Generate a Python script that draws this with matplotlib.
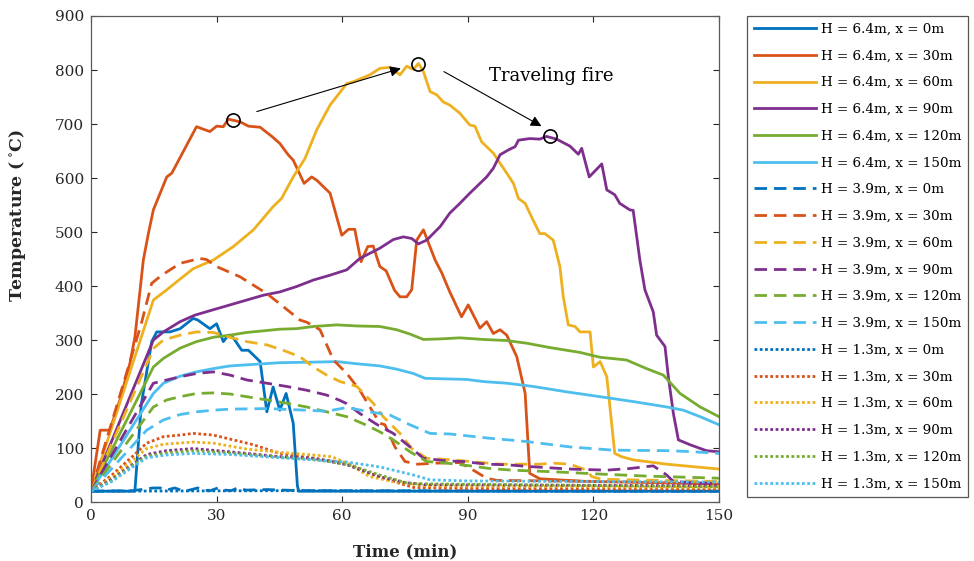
import matplotlib
matplotlib.use('Agg')
import matplotlib.pyplot as plt

# --- data (time in min, temperature in deg C) ---
t_64_0 = [0, 10.3, 10.5, 12.0, 14.5, 15.7, 18.9, 21.3, 24.4, 25.5, 28.4, 30.0, 31.6, 32.8, 33.9, 36.0, 37.6,
          40.4, 42.0, 43.5, 45.1, 46.6, 48.3, 49.3, 49.6, 150]
T_64_0 = [20, 20, 22, 180, 297, 315, 315, 321, 340, 337, 321, 330, 297, 309, 305, 281, 281,
          260, 167, 213, 170, 201, 146, 30, 20, 20]

t_64_30 = [0, 2.2, 4.5, 6.9, 9.3, 10.5, 12.5, 13.7, 14.9, 18.1, 19.3, 25.2, 28.4, 30.0, 31.6, 32.8, 35.6,
           37.6, 40.4, 43.2, 45.1, 47.1, 48.3, 50.9, 52.7, 53.9, 57.1, 59.9, 61.5, 63.0, 64.5, 66.1, 67.4,
           69.0, 70.5, 72.5, 73.8, 75.4, 76.6, 77.8, 79.4, 82.2, 83.8, 85.7, 88.5, 90.1, 92.9, 94.5, 96.1,
           97.7, 99.3, 101.7, 103.7, 104.8, 107.2, 118.4, 134.3, 150]
T_64_30 = [20, 133, 133, 189, 257, 306, 448, 497, 541, 602, 609, 695, 686, 696, 695, 709, 704,
           696, 694, 677, 664, 643, 633, 590, 602, 596, 572, 494, 505, 505, 445, 473, 474,
           436, 428, 392, 380, 380, 393, 485, 504, 448, 424, 389, 343, 365, 322, 334, 312,
           319, 309, 269, 201, 53, 43, 38, 36, 33]

t_64_60 = [0, 14.9, 18.1, 20.5, 24.4, 29.2, 34.0, 38.8, 43.5, 45.5, 48.3, 51.1, 53.9, 57.1, 61.1, 62.6,
           66.6, 69.0, 71.4, 73.8, 75.4, 77.0, 78.2, 79.4, 81.0, 82.6, 84.1, 85.7, 88.1, 90.5, 91.7, 93.3,
           96.1, 99.3, 100.9, 102.1, 103.7, 105.6, 107.2, 108.4, 110.4, 112.0, 112.8, 114.0, 115.6, 116.8,
           119.2, 120.0, 121.6, 123.2, 125.1, 126.7, 129.5, 137.5, 150]
T_64_60 = [20, 374, 393, 408, 432, 448, 473, 504, 547, 562, 602, 636, 689, 735, 775, 778,
           791, 803, 805, 791, 807, 801, 812, 797, 760, 754, 741, 735, 720, 698, 696, 667,
           646, 609, 590, 562, 553, 522, 497, 497, 485, 436, 380, 328, 325, 315,
           315, 250, 260, 232, 90, 84, 78, 70, 61]

t_64_90 = [0, 14.9, 17.3, 21.3, 24.8, 29.2, 33.2, 37.2, 41.2, 45.1, 49.1, 53.1, 57.1, 61.1, 64.2, 69.0,
           72.2, 74.6, 76.6, 78.2, 80.2, 83.4, 85.7, 88.1, 90.5, 94.5, 96.1, 97.7, 99.7, 101.3, 102.1,
           104.8, 107.2, 108.8, 111.2, 114.4, 116.4, 117.2, 119.0, 122.0, 123.2, 125.1, 126.3, 128.7,
           129.5, 131.1, 132.3, 134.3, 135.1, 137.1, 137.9, 139.1, 140.3, 143.1, 147.0, 150]
T_64_90 = [20, 300, 315, 334, 346, 356, 365, 374, 383, 389, 399, 411, 420, 430, 451, 470,
           486, 491, 488, 478, 485, 510, 535, 553, 572, 602, 618, 643, 652, 658, 670,
           673, 672, 677, 672, 659, 644, 655, 602, 626, 578, 569, 553, 541,
           540, 448, 393, 352, 309, 288, 232, 164, 115, 106, 95, 93]

t_64_120 = [0, 14.9, 17.3, 21.3, 25.2, 29.2, 33.2, 37.2, 41.2, 45.1, 49.1, 53.1, 58.7, 63.5, 69.0, 73.0,
            76.2, 79.4, 83.4, 88.1, 93.7, 99.3, 104.1, 109.6, 116.8, 121.6, 127.9, 132.7, 136.7, 140.7,
            145.5, 150]
T_64_120 = [20, 250, 266, 285, 297, 305, 309, 314, 317, 320, 321, 325, 328, 326, 325, 319,
            311, 301, 302, 304, 301, 299, 294, 286, 277, 268, 263, 247, 235, 201,
            176, 158]

t_64_150 = [0, 14.9, 17.3, 21.3, 25.2, 29.2, 33.2, 37.2, 41.2, 45.1, 53.1, 58.7, 63.5, 69.0, 73.0, 77.0,
            79.8, 89.7, 93.7, 99.3, 105.6, 113.6, 121.6, 129.5, 137.5, 141.5, 145.5, 150]
T_64_150 = [20, 201, 220, 233, 241, 247, 252, 254, 256, 258, 259, 260, 256, 252, 246, 238,
            229, 227, 223, 220, 214, 204, 195, 186, 176, 170, 158, 143]

t_39_0 = [0, 10, 14.9, 16.5, 18, 20, 21.5, 23, 25.5, 27, 28.5, 30.3, 32, 33.5, 35, 37, 42, 50, 150]
T_39_0 = [20, 21, 26, 26, 22, 26, 22, 21, 26, 22, 21, 26, 22, 21, 26, 22, 23, 21, 20]

t_39_30 = [0, 7, 12, 14.5, 16.9, 21.3, 26.0, 27.6, 30.0, 35.6, 42.0, 45.9, 49.9, 51.5, 54.7, 57.9, 61.1,
           64.2, 66.6, 69.0, 70.2, 72.6, 75.0, 78, 82.6, 88.1, 91.3, 94.5, 97, 150]
T_39_30 = [20, 200, 330, 405, 420, 442, 451, 449, 436, 417, 386, 362, 337, 333, 319, 263, 238,
           207, 176, 146, 143, 102, 75, 70, 72, 73, 59, 44, 40, 36]

t_39_60 = [0, 15, 17.3, 21.3, 25.2, 29.2, 33.2, 37.2, 42.0, 45.9, 49.9, 53.1, 56.3, 59.5, 63.5, 67.4,
           69.8, 73.8, 76.6, 80.2, 86.5, 90.5, 97.7, 107.2, 110.4, 114.4, 118.4, 119.6, 122, 150]
T_39_60 = [20, 285, 300, 309, 315, 314, 305, 297, 291, 281, 269, 250, 235, 223, 214, 183,
           158, 127, 99, 81, 78, 75, 70, 70, 72, 70, 59, 47, 42, 38]

t_39_90 = [0, 14.9, 21.3, 25.2, 29.2, 33.2, 37.2, 42.0, 46.7, 51.5, 56.3, 59.5, 61.1, 64.2, 68.2, 72.2,
           76.2, 79.4, 85.0, 88.9, 94.5, 99.3, 104.0, 114.4, 123.2, 128.7, 134.3, 137.5, 139.1, 143, 150]
T_39_90 = [20, 220, 232, 238, 241, 235, 226, 220, 214, 207, 198, 188, 182, 164, 144, 127,
           102, 81, 76, 75, 70, 69, 66, 61, 59, 62, 67, 50, 38, 36, 34]

t_39_120 = [0, 14.9, 18.1, 21.3, 25.2, 29.2, 33.2, 37.2, 42.0, 46.7, 51.5, 56.3, 61.1, 65.0, 69.0, 72.2,
            76.2, 80.2, 85.0, 90.5, 95.3, 100.5, 110.4, 120.8, 132.7, 150]
T_39_120 = [20, 176, 189, 195, 201, 202, 200, 195, 189, 183, 176, 167, 158, 145, 130, 115,
            93, 75, 72, 67, 62, 59, 56, 52, 48, 44]

t_39_150 = [0, 13.3, 17.3, 21.3, 25.2, 29.2, 33.2, 42.0, 51.5, 56.3, 61.1, 66.6, 71.4, 76.2, 81.0, 85.7,
            95.3, 104.0, 114.4, 124.7, 138.3, 143.9, 150]
T_39_150 = [20, 133, 152, 162, 167, 170, 172, 173, 170, 168, 175, 167, 161, 143, 127, 126,
            118, 112, 102, 96, 95, 93, 90]

t_13_0 = [0, 50, 100, 150]
T_13_0 = [20, 21, 20, 20]

t_13_30 = [0, 5, 10, 13.3, 17.3, 21.3, 24.4, 29.2, 34.0, 38.8, 45.1, 53.1, 61.1, 66.6, 72.2, 77, 90, 150]
T_13_30 = [20, 50, 85, 109, 121, 124, 127, 124, 115, 106, 90, 81, 72, 53, 38, 27, 25, 24]

t_13_60 = [0, 5, 10, 13.3, 17.3, 24.4, 29.2, 37.2, 45.1, 53.1, 57.5, 61.1, 66.6, 72, 80, 150]
T_13_60 = [20, 45, 78, 99, 107, 111, 109, 98, 92, 87, 84, 72, 47, 38, 30, 27]

t_13_90 = [0, 5, 10, 13.3, 18, 24.4, 33.2, 45.1, 53.1, 61.1, 69, 75, 80, 150]
T_13_90 = [20, 42, 70, 88, 95, 99, 93, 84, 81, 69, 47, 36, 32, 30]

t_13_120 = [0, 5, 10, 13.3, 18, 24.4, 33.2, 45.1, 53.1, 61.1, 69, 76, 150]
T_13_120 = [20, 40, 68, 85, 91, 95, 91, 83, 79, 70, 50, 34, 28]

t_13_150 = [0, 5, 10, 13.3, 18, 24.4, 33.2, 45.1, 53.1, 61.1, 69, 77, 81, 90, 150]
T_13_150 = [20, 38, 65, 82, 87, 90, 88, 82, 78, 74, 65, 50, 41, 39, 37]

# peak markers of the travelling fire
peak_t = [33.8, 78.1, 109.6]
peak_T = [707, 811, 678]

heights = ['6.4', '3.9', '1.3']
positions = ['0', '30', '60', '90', '120', '150']
colors = ['#0072BD', '#D95319', '#EDB120', '#7E2F8E', '#77AC30', '#4DBEEE']

series = [
    [(t_64_0, T_64_0), (t_64_30, T_64_30), (t_64_60, T_64_60),
     (t_64_90, T_64_90), (t_64_120, T_64_120), (t_64_150, T_64_150)],
    [(t_39_0, T_39_0), (t_39_30, T_39_30), (t_39_60, T_39_60),
     (t_39_90, T_39_90), (t_39_120, T_39_120), (t_39_150, T_39_150)],
    [(t_13_0, T_13_0), (t_13_30, T_13_30), (t_13_60, T_13_60),
     (t_13_90, T_13_90), (t_13_120, T_13_120), (t_13_150, T_13_150)],
]
dash_styles = [None, (4.5, 2.5), (1.0, 0.9)]

plt.rcParams['font.family'] = 'DejaVu Serif'
plt.rcParams['mathtext.fontset'] = 'dejavuserif'

fig = plt.figure(figsize=(9.74, 5.61), dpi=100)
ax = fig.add_axes([91 / 974, 1 - 502 / 561, 628 / 974, 486 / 561])

for h, group, ds in zip(heights, series, dash_styles):
    for pos, (tt, TT), c in zip(positions, group, colors):
        line, = ax.plot(tt, TT, color=c, lw=2.0, label='H = ' + h + 'm, x = ' + pos + 'm')
        if ds is not None:
            line.set_dashes(ds)
            line.set_dash_capstyle('butt')

ax.plot(peak_t, peak_T, 'o', ms=9.5, mfc='none', mec='black', mew=1.2, zorder=5)

arrow = dict(arrowstyle='-|>', color='black', lw=0.8, mutation_scale=16, shrinkA=0, shrinkB=0)
ax.annotate('', xy=(74.0, 803), xytext=(39.6, 723), arrowprops=arrow)
ax.annotate('', xy=(107.6, 696), xytext=(84.3, 797), arrowprops=arrow)
ax.text(109.9, 788, 'Traveling fire', fontsize=13, ha='center', va='center', color='black')

ax.set_xlim(0, 150)
ax.set_ylim(0, 900)
ax.set_xticks(range(0, 151, 30))
ax.set_yticks(range(0, 901, 100))
ax.tick_params(direction='in', top=True, right=True, length=4, width=0.8,
               labelsize=11, colors='#262626', pad=5)
for sp in ax.spines.values():
    sp.set_color('#5a5a5a')
    sp.set_linewidth(0.9)

ax.set_xlabel('Time (min)', fontsize=12, fontweight='bold', color='#262626')
ax.set_ylabel(r'Temperature ($\,^{\circ}$C)', fontsize=12.5, fontweight='bold', color='#262626')
ax.xaxis.set_label_coords(0.5, -0.085)
ax.yaxis.set_label_coords(-0.1, 0.59)

leg = fig.legend(loc='upper left', bbox_to_anchor=(747 / 974, 1 - 16 / 561), bbox_transform=fig.transFigure,
                 fontsize=9.7, frameon=True, fancybox=False, edgecolor='#555555', framealpha=1,
                 handlelength=4.6, handletextpad=0.4, labelspacing=1.02, borderpad=0.5, borderaxespad=0)
leg.get_frame().set_linewidth(0.9)

fig.savefig('out.png', dpi=100)
